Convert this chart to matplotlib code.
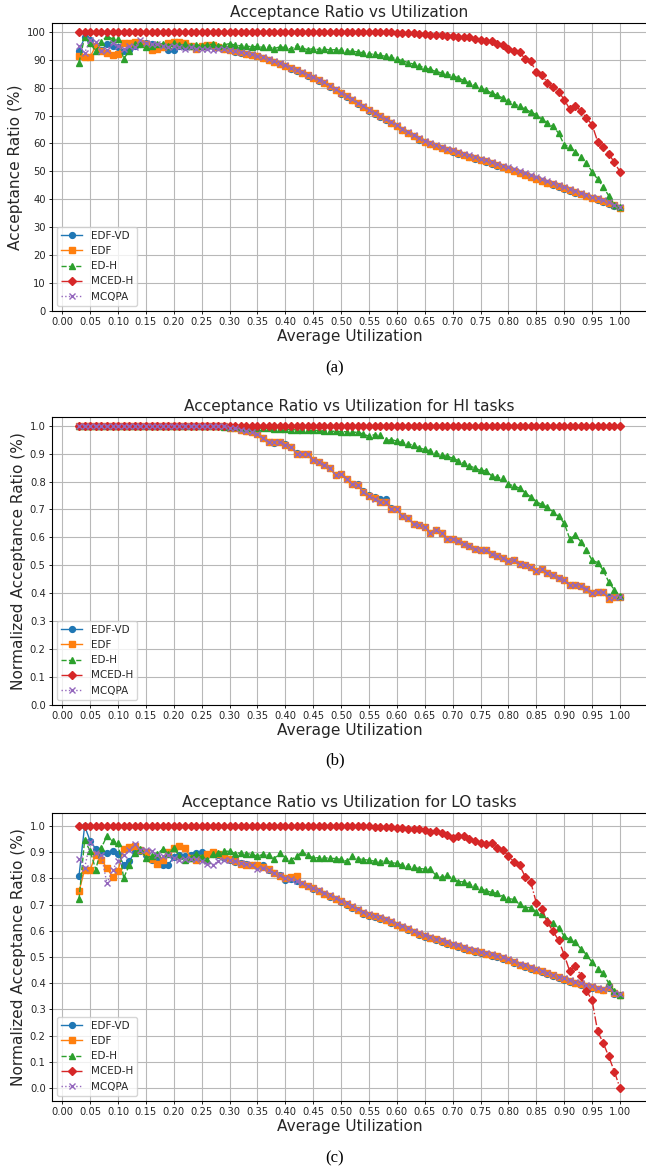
import numpy as np
import matplotlib
matplotlib.use("Agg")
import matplotlib.pyplot as plt

# utilization steps 0.03 .. 1.00
util = np.round(np.arange(3, 101) / 100, 2)

# ---------------- (a) overall acceptance ratio (%) ----------------
a_edf_vd = [
    93.0, 98.0, 97.0, 95.0, 93.5, 95.5, 95.0, 94.5, 93.0, 93.5,
    95.0, 95.5, 96.0, 95.5, 95.0, 94.5, 93.5, 93.5, 95.0, 94.5,
    95.0, 94.5, 95.0, 94.5, 95.0, 94.5, 94.0, 93.4, 92.9, 92.5,
    92.1, 91.7, 91.2, 90.5, 89.9, 89.1, 88.4, 87.6, 86.8, 86.0,
    85.1, 84.3, 83.4, 82.5, 81.5, 80.3, 79.0, 77.8, 76.7, 75.5,
    74.2, 72.9, 71.7, 70.6, 69.5, 68.4, 67.2, 66.1, 64.8, 63.6,
    62.5, 61.4, 60.5, 59.7, 59.0, 58.3, 57.6, 57.0, 56.4, 55.7,
    55.1, 54.6, 54.0, 53.4, 52.7, 52.1, 51.4, 50.7, 50.0, 49.3,
    48.6, 47.9, 47.2, 46.5, 45.8, 45.2, 44.5, 43.8, 43.1, 42.4,
    41.8, 41.1, 40.4, 39.8, 39.1, 38.4, 37.7, 37.0]
a_edf = [
    91.5, 91.0, 91.0, 95.0, 93.0, 92.5, 91.8, 92.0, 96.0, 96.0,
    96.5, 96.0, 95.5, 93.5, 94.0, 94.5, 96.0, 96.5, 96.5, 96.0,
    95.0, 94.0, 95.0, 95.3, 95.3, 94.5, 94.0, 93.5, 93.0, 92.6,
    92.2, 91.8, 91.3, 90.6, 90.0, 89.2, 88.6, 87.8, 87.0, 86.2,
    85.3, 84.5, 83.6, 82.7, 81.7, 80.5, 79.2, 78.0, 76.9, 75.7,
    74.4, 73.1, 71.9, 70.8, 69.7, 68.6, 67.4, 66.3, 65.0, 63.8,
    62.7, 61.6, 60.7, 59.9, 59.2, 58.5, 57.8, 57.2, 56.6, 55.9,
    55.3, 54.8, 54.2, 53.6, 52.9, 52.3, 51.6, 50.9, 50.2, 49.5,
    48.8, 48.1, 47.4, 46.7, 46.0, 45.4, 44.7, 44.0, 43.3, 42.6,
    42.0, 41.3, 40.6, 40.0, 39.3, 38.6, 37.9, 37.0]
a_ed_h = [
    89.0, 98.1, 96.0, 93.0, 96.4, 98.4, 97.5, 97.3, 90.4, 93.0,
    95.6, 95.6, 94.4, 95.0, 95.5, 95.8, 95.0, 96.0, 95.2, 95.5,
    95.0, 95.4, 95.0, 95.3, 95.6, 95.0, 95.3, 95.8, 95.2, 95.0,
    94.9, 94.6, 94.8, 94.4, 94.5, 94.0, 94.6, 94.4, 93.8, 95.0,
    94.2, 93.6, 94.0, 93.6, 93.8, 93.5, 93.6, 93.4, 93.2, 93.0,
    92.8, 92.5, 92.1, 91.9, 91.6, 91.2, 90.8, 90.3, 89.6, 89.0,
    88.4, 87.8, 87.1, 86.5, 85.8, 85.3, 84.8, 84.3, 83.5, 82.6,
    81.6, 80.8, 79.9, 79.0, 78.1, 77.2, 76.3, 75.3, 74.3, 73.3,
    72.3, 71.3, 70.3, 68.7, 67.5, 66.1, 63.7, 59.5, 58.9, 57.1,
    55.3, 52.9, 49.9, 47.2, 44.5, 41.2, 38.0, 37.4]
a_mced_h = [
    100, 100, 100, 100, 100, 100, 100, 100, 100, 100,
    100, 100, 100, 100, 100, 100, 100, 100, 100, 100,
    100, 100, 100, 100, 100, 100, 100, 100, 100, 100,
    100, 100, 100, 100, 100, 100, 100, 100, 100, 100,
    100, 100, 100, 100, 100, 100, 100, 100, 100, 100,
    100, 100, 100, 99.9, 99.9, 99.8, 99.8, 99.7, 99.6, 99.5,
    99.4, 99.3, 99.2, 99.0, 98.9, 98.8, 98.6, 98.4, 98.3, 98.1,
    98.2, 97.5, 96.9, 96.8, 96.6, 95.8, 95.4, 93.9, 93.0, 92.7,
    90.3, 89.4, 85.5, 84.7, 81.7, 80.2, 78.6, 75.7, 72.3, 73.5,
    71.7, 69.1, 66.7, 60.7, 58.6, 56.3, 53.2, 49.9]
a_mcqpa = [
    95.0, 92.5, 97.0, 96.5, 93.0, 93.5, 96.0, 95.0, 94.0, 95.0,
    94.5, 97.0, 96.0, 95.5, 95.5, 95.0, 94.5, 95.0, 94.5, 94.0,
    94.5, 94.0, 94.0, 93.8, 93.5, 94.0, 93.8, 93.5, 93.0, 92.7,
    92.3, 91.9, 91.4, 90.8, 90.2, 89.4, 88.8, 88.0, 87.2, 86.4,
    85.5, 84.7, 83.8, 82.9, 81.9, 80.7, 79.4, 78.2, 77.1, 75.9,
    74.6, 73.3, 72.1, 71.0, 69.9, 68.8, 67.6, 66.5, 65.2, 64.0,
    62.9, 61.9, 61.0, 60.2, 59.5, 58.9, 58.2, 57.6, 57.0, 56.3,
    55.7, 55.2, 54.6, 54.0, 53.4, 52.8, 52.1, 51.4, 50.7, 50.0,
    49.3, 48.6, 47.9, 47.2, 46.5, 45.9, 45.2, 44.5, 43.8, 43.1,
    42.4, 41.7, 41.0, 40.3, 39.6, 38.9, 38.1, 37.3]

# ---------------- (b) HI tasks ----------------
b_edf_vd = [
    1.0, 1.0, 1.0, 1.0, 1.0, 1.0, 1.0, 1.0, 1.0, 1.0,
    1.0, 1.0, 1.0, 1.0, 1.0, 1.0, 1.0, 1.0, 1.0, 1.0,
    1.0, 1.0, 1.0, 1.0, 1.0, 1.0, 0.998, 0.992, 0.99, 0.986,
    0.98, 0.976, 0.97, 0.955, 0.94, 0.937, 0.94, 0.935, 0.925, 0.902,
    0.90, 0.897, 0.878, 0.87, 0.86, 0.847, 0.825, 0.826, 0.809, 0.792,
    0.79, 0.766, 0.752, 0.744, 0.738, 0.738, 0.704, 0.70, 0.675, 0.668,
    0.648, 0.645, 0.636, 0.617, 0.625, 0.615, 0.596, 0.596, 0.588, 0.578,
    0.569, 0.557, 0.556, 0.554, 0.54, 0.532, 0.527, 0.515, 0.52, 0.506,
    0.503, 0.494, 0.481, 0.486, 0.471, 0.465, 0.455, 0.447, 0.43, 0.43,
    0.426, 0.415, 0.40, 0.405, 0.403, 0.388, 0.388, 0.386]
b_edf = [
    1.0, 1.0, 1.0, 1.0, 1.0, 1.0, 1.0, 1.0, 1.0, 1.0,
    1.0, 1.0, 1.0, 1.0, 1.0, 1.0, 1.0, 1.0, 1.0, 1.0,
    1.0, 1.0, 1.0, 1.0, 1.0, 1.0, 0.998, 0.992, 0.99, 0.986,
    0.98, 0.976, 0.97, 0.955, 0.94, 0.94, 0.94, 0.932, 0.925, 0.90,
    0.90, 0.897, 0.876, 0.87, 0.86, 0.847, 0.823, 0.826, 0.809, 0.79,
    0.788, 0.764, 0.748, 0.74, 0.728, 0.726, 0.70, 0.70, 0.675, 0.668,
    0.648, 0.645, 0.636, 0.617, 0.625, 0.615, 0.596, 0.596, 0.588, 0.578,
    0.569, 0.557, 0.554, 0.554, 0.54, 0.532, 0.527, 0.515, 0.518, 0.506,
    0.503, 0.494, 0.481, 0.486, 0.471, 0.465, 0.453, 0.447, 0.43, 0.43,
    0.426, 0.415, 0.40, 0.405, 0.403, 0.378, 0.388, 0.386]
b_ed_h = [
    1.0, 1.0, 1.0, 1.0, 1.0, 1.0, 1.0, 1.0, 1.0, 1.0,
    1.0, 1.0, 1.0, 1.0, 1.0, 1.0, 1.0, 1.0, 1.0, 1.0,
    1.0, 1.0, 1.0, 1.0, 1.0, 0.998, 0.997, 0.996, 0.995, 0.994,
    0.993, 0.992, 0.991, 0.99, 0.99, 0.989, 0.988, 0.987, 0.986, 0.985,
    0.985, 0.984, 0.983, 0.983, 0.981, 0.98, 0.98, 0.979, 0.978, 0.977,
    0.976, 0.97, 0.962, 0.968, 0.965, 0.947, 0.95, 0.945, 0.94, 0.935,
    0.93, 0.92, 0.915, 0.91, 0.902, 0.895, 0.89, 0.884, 0.875, 0.866,
    0.857, 0.848, 0.84, 0.839, 0.82, 0.815, 0.811, 0.79, 0.785, 0.776,
    0.76, 0.745, 0.728, 0.718, 0.708, 0.692, 0.675, 0.651, 0.595, 0.607,
    0.585, 0.555, 0.518, 0.51, 0.482, 0.44, 0.412, 0.39]
b_mced_h = [
    1.0, 1.0, 1.0, 1.0, 1.0, 1.0, 1.0, 1.0, 1.0, 1.0,
    1.0, 1.0, 1.0, 1.0, 1.0, 1.0, 1.0, 1.0, 1.0, 1.0,
    1.0, 1.0, 1.0, 1.0, 1.0, 1.0, 1.0, 1.0, 1.0, 1.0,
    1.0, 1.0, 1.0, 1.0, 1.0, 1.0, 1.0, 1.0, 1.0, 1.0,
    1.0, 1.0, 1.0, 1.0, 1.0, 1.0, 1.0, 1.0, 1.0, 1.0,
    1.0, 1.0, 1.0, 1.0, 1.0, 1.0, 1.0, 1.0, 1.0, 1.0,
    1.0, 1.0, 1.0, 1.0, 1.0, 1.0, 1.0, 1.0, 1.0, 1.0,
    1.0, 1.0, 1.0, 1.0, 1.0, 1.0, 1.0, 1.0, 1.0, 1.0,
    1.0, 1.0, 1.0, 1.0, 1.0, 1.0, 1.0, 1.0, 1.0, 1.0,
    1.0, 1.0, 1.0, 1.0, 1.0, 1.0, 1.0, 1.0]
b_mcqpa = [
    1.0, 1.0, 1.0, 1.0, 1.0, 1.0, 1.0, 1.0, 1.0, 1.0,
    1.0, 1.0, 1.0, 1.0, 1.0, 1.0, 1.0, 1.0, 1.0, 1.0,
    1.0, 1.0, 1.0, 1.0, 1.0, 1.0, 0.998, 0.992, 0.99, 0.986,
    0.98, 0.976, 0.97, 0.955, 0.94, 0.94, 0.94, 0.932, 0.925, 0.90,
    0.90, 0.897, 0.876, 0.87, 0.86, 0.847, 0.823, 0.826, 0.809, 0.79,
    0.788, 0.764, 0.748, 0.738, 0.728, 0.726, 0.70, 0.70, 0.675, 0.668,
    0.648, 0.645, 0.636, 0.617, 0.625, 0.615, 0.596, 0.596, 0.588, 0.578,
    0.569, 0.557, 0.554, 0.554, 0.54, 0.532, 0.527, 0.515, 0.518, 0.506,
    0.503, 0.494, 0.481, 0.486, 0.471, 0.465, 0.453, 0.447, 0.43, 0.43,
    0.426, 0.415, 0.40, 0.405, 0.403, 0.384, 0.388, 0.386]

# ---------------- (c) LO tasks ----------------
c_edf_vd = [
    0.811, 1.0, 0.943, 0.913, 0.90, 0.898, 0.906, 0.895, 0.853, 0.866,
    0.90, 0.906, 0.89, 0.872, 0.879, 0.853, 0.853, 0.881, 0.89, 0.885,
    0.89, 0.898, 0.90, 0.89, 0.895, 0.888, 0.879, 0.872, 0.862, 0.86,
    0.855, 0.85, 0.846, 0.853, 0.834, 0.822, 0.815, 0.796, 0.799, 0.79,
    0.777, 0.77, 0.76, 0.751, 0.742, 0.729, 0.72, 0.71, 0.70, 0.688,
    0.678, 0.665, 0.656, 0.652, 0.647, 0.64, 0.63, 0.621, 0.613, 0.604,
    0.594, 0.585, 0.577, 0.571, 0.564, 0.558, 0.551, 0.544, 0.538, 0.532,
    0.525, 0.519, 0.515, 0.51, 0.505, 0.499, 0.494, 0.487, 0.477, 0.468,
    0.462, 0.455, 0.449, 0.442, 0.434, 0.427, 0.419, 0.412, 0.405, 0.399,
    0.394, 0.388, 0.383, 0.376, 0.373, 0.382, 0.36, 0.354]
c_edf = [
    0.751, 0.834, 0.834, 0.89, 0.87, 0.84, 0.806, 0.83, 0.912, 0.92,
    0.925, 0.91, 0.90, 0.875, 0.856, 0.87, 0.90, 0.917, 0.925, 0.915,
    0.88, 0.87, 0.88, 0.895, 0.90, 0.895, 0.885, 0.875, 0.865, 0.855,
    0.85, 0.85, 0.852, 0.845, 0.835, 0.82, 0.81, 0.80, 0.805, 0.81,
    0.78, 0.77, 0.762, 0.752, 0.742, 0.732, 0.722, 0.712, 0.702, 0.69,
    0.68, 0.668, 0.66, 0.655, 0.65, 0.643, 0.633, 0.624, 0.616, 0.607,
    0.597, 0.588, 0.58, 0.574, 0.567, 0.561, 0.554, 0.547, 0.541, 0.535,
    0.528, 0.522, 0.518, 0.513, 0.508, 0.502, 0.497, 0.49, 0.48, 0.471,
    0.465, 0.458, 0.452, 0.445, 0.437, 0.43, 0.422, 0.415, 0.408, 0.402,
    0.397, 0.391, 0.386, 0.378, 0.375, 0.385, 0.362, 0.356]
c_ed_h = [
    0.72, 0.947, 0.904, 0.834, 0.917, 0.962, 0.943, 0.936, 0.802, 0.85,
    0.898, 0.913, 0.879, 0.885, 0.895, 0.911, 0.892, 0.917, 0.885, 0.872,
    0.879, 0.895, 0.882, 0.872, 0.892, 0.898, 0.904, 0.904, 0.895, 0.898,
    0.895, 0.892, 0.885, 0.892, 0.888, 0.875, 0.898, 0.879, 0.87, 0.885,
    0.901, 0.888, 0.879, 0.879, 0.879, 0.877, 0.876, 0.873, 0.866, 0.885,
    0.875, 0.872, 0.87, 0.866, 0.862, 0.872, 0.86, 0.858, 0.85, 0.846,
    0.842, 0.838, 0.836, 0.835, 0.812, 0.804, 0.812, 0.80, 0.788, 0.787,
    0.778, 0.772, 0.761, 0.753, 0.747, 0.744, 0.731, 0.723, 0.72, 0.701,
    0.689, 0.689, 0.672, 0.663, 0.641, 0.628, 0.612, 0.58, 0.567, 0.557,
    0.531, 0.509, 0.48, 0.455, 0.437, 0.399, 0.369, 0.356]
c_mced_h = [
    1.0, 1.0, 1.0, 1.0, 1.0, 1.0, 1.0, 1.0, 1.0, 1.0,
    1.0, 1.0, 1.0, 1.0, 1.0, 1.0, 1.0, 1.0, 1.0, 1.0,
    1.0, 1.0, 1.0, 1.0, 1.0, 1.0, 1.0, 1.0, 1.0, 1.0,
    1.0, 1.0, 1.0, 1.0, 1.0, 1.0, 1.0, 1.0, 1.0, 1.0,
    1.0, 1.0, 1.0, 1.0, 1.0, 1.0, 1.0, 1.0, 1.0, 1.0,
    1.0, 1.0, 0.999, 0.998, 0.997, 0.996, 0.995, 0.994, 0.993, 0.99,
    0.988, 0.987, 0.984, 0.977, 0.98, 0.972, 0.965, 0.956, 0.962, 0.962,
    0.952, 0.943, 0.937, 0.93, 0.934, 0.918, 0.908, 0.886, 0.863, 0.85,
    0.807, 0.786, 0.707, 0.684, 0.633, 0.598, 0.564, 0.509, 0.445, 0.465,
    0.429, 0.372, 0.334, 0.216, 0.171, 0.12, 0.062, 0.0]
c_mcqpa = [
    0.875, 0.84, 0.94, 0.898, 0.89, 0.781, 0.834, 0.866, 0.89, 0.91,
    0.93, 0.91, 0.91, 0.905, 0.89, 0.885, 0.89, 0.88, 0.872, 0.874,
    0.876, 0.876, 0.866, 0.857, 0.853, 0.866, 0.872, 0.87, 0.866, 0.86,
    0.855, 0.85, 0.836, 0.84, 0.832, 0.82, 0.812, 0.802, 0.798, 0.792,
    0.781, 0.772, 0.764, 0.754, 0.745, 0.735, 0.725, 0.715, 0.705, 0.693,
    0.683, 0.671, 0.663, 0.658, 0.653, 0.646, 0.636, 0.627, 0.619, 0.61,
    0.60, 0.591, 0.583, 0.577, 0.57, 0.564, 0.557, 0.55, 0.544, 0.538,
    0.531, 0.525, 0.521, 0.516, 0.511, 0.505, 0.50, 0.493, 0.483, 0.474,
    0.468, 0.461, 0.455, 0.448, 0.44, 0.433, 0.425, 0.418, 0.411, 0.405,
    0.40, 0.394, 0.389, 0.381, 0.378, 0.387, 0.364, 0.357]

labels = ["EDF-VD", "EDF", "ED-H", "MCED-H", "MCQPA"]
styles = [
    dict(marker="o", linestyle="-", color="#1f77b4", markersize=4.2),
    dict(marker="s", linestyle="-", color="#ff7f0e", markersize=4.2),
    dict(marker="^", linestyle="--", color="#2ca02c", markersize=4.4),
    dict(marker="D", linestyle="-.", color="#d62728", markersize=4.0),
    dict(marker="x", linestyle=":", color="#9467bd", markersize=4.2),
]

panels = [
    ("Acceptance Ratio vs Utilization", "Acceptance Ratio (%)",
     [a_edf_vd, a_edf, a_ed_h, a_mced_h, a_mcqpa], np.arange(0, 101, 10), "(a)"),
    ("Acceptance Ratio vs Utilization for HI tasks", "Normalized Acceptance Ratio (%)",
     [b_edf_vd, b_edf, b_ed_h, b_mced_h, b_mcqpa], np.round(np.arange(0, 1.01, 0.1), 1), "(b)"),
    ("Acceptance Ratio vs Utilization for LO tasks", "Normalized Acceptance Ratio (%)",
     [c_edf_vd, c_edf, c_ed_h, c_mced_h, c_mcqpa], np.round(np.arange(0, 1.01, 0.1), 1), "(c)"),
]

W, H = 646, 1172
fig = plt.figure(figsize=(W / 100, H / 100), dpi=100)
text_col = "#262626"

# axes boxes in pixels: (left, top, right, bottom)
boxes = [(52, 23, 647, 311), (52, 417, 647, 705), (52, 813, 647, 1101)]
caption_y = [368, 760, 1158]

for i, (title, ylabel, series, yticks, cap) in enumerate(panels):
    l, t, r, b = boxes[i]
    ax = fig.add_axes([l / W, 1 - b / H, (r - l) / W, (b - t) / H])
    for vals, lab, st in zip(series, labels, styles):
        ax.plot(util, vals, label=lab, linewidth=1.0, **st)
    ax.set_xticks(np.round(np.arange(0, 1.001, 0.05), 2))
    ax.xaxis.set_major_formatter(matplotlib.ticker.FormatStrFormatter("%.2f"))
    ax.set_yticks(yticks)
    if i == 0:
        ax.yaxis.set_major_formatter(matplotlib.ticker.FormatStrFormatter("%d"))
    else:
        ax.yaxis.set_major_formatter(matplotlib.ticker.FormatStrFormatter("%.1f"))
    if i < 2:
        ax.set_ylim(bottom=0)
    ax.tick_params(labelsize=7.2, length=2.5, width=0.6, pad=2, labelcolor=text_col)
    ax.set_title(title, fontsize=11.1, pad=4, color=text_col)
    ax.set_xlabel("Average Utilization", fontsize=11.1, labelpad=1, color=text_col)
    ax.set_ylabel(ylabel, fontsize=11.1, labelpad=3, color=text_col)
    ax.grid(True, color="#b8b8b8", linewidth=0.8)
    leg = ax.legend(loc="lower left", fontsize=7.5, handlelength=2.0)
    for txt in leg.get_texts():
        txt.set_color(text_col)
    fig.text(335 / W, 1 - caption_y[i] / H, cap, ha="center", va="center",
             fontsize=12, family="Liberation Serif")

fig.savefig("out.png", dpi=100)
